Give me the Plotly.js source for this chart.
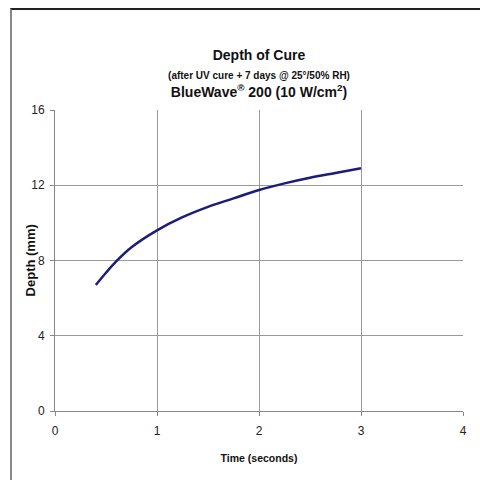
<!DOCTYPE html>
<html>
<head>
<meta charset="utf-8">
<script src="https://cdn.plot.ly/plotly-3.0.1.min.js"></script>
<style>
html,body{margin:0;padding:0;background:#fff;}
#wrap{position:relative;width:480px;height:480px;}
#chart{width:480px;height:480px;}
#frame{position:absolute;left:10px;top:8px;width:470px;height:472px;border-top:2px solid #222;border-left:2px solid #888;pointer-events:none;box-sizing:border-box;}
</style>
</head>
<body>
<div id="wrap">
<div id="chart"></div>
<div id="frame"></div>
</div>
<script>
const timeSeconds = [0.4, 0.5, 0.6, 0.75, 1.0, 1.25, 1.5, 1.75, 2.0, 2.25, 2.5, 2.75, 3.0];
const depthMm     = [6.7, 7.35, 7.95, 8.7, 9.6, 10.3, 10.85, 11.3, 11.75, 12.1, 12.4, 12.65, 12.9];
const xTicks = [0, 1, 2, 3, 4];
const yTicks = [0, 4, 8, 12, 16];

const font = "Liberation Sans, Arial, sans-serif";
const trace = {
  x: timeSeconds, y: depthMm, type: 'scatter', mode: 'lines',
  line: {color: '#1c1c7a', width: 2.5, shape: 'spline', smoothing: 1},
  hoverinfo: 'skip'
};
const layout = {
  width: 480, height: 480,
  margin: {l: 55, r: 17, t: 110, b: 69},
  paper_bgcolor: '#fff', plot_bgcolor: '#fff',
  showlegend: false,
  font: {family: font, color: '#222', size: 12},
  title: {
    text: '<b>Depth of Cure</b><br><b><span style="font-size:10px">(after UV cure + 7 days @ 25°/50% RH)</span></b><br><b>BlueWave<sup>®</sup> 200 (10 W/cm<sup>2</sup>)</b>',
    font: {family: font, size: 14, color: '#111'},
    x: 0.5, xref: 'paper', xanchor: 'center',
    y: 0.874, yref: 'container', yanchor: 'middle'
  },
  xaxis: {
    range: [0, 4], tickvals: xTicks, ticktext: xTicks.map(String),
    showgrid: true, gridcolor: '#999', gridwidth: 1,
    showline: true, linecolor: '#888', linewidth: 1,
    ticks: 'outside', ticklen: 4, tickcolor: '#888',
    ticklabelstandoff: 5,
    zeroline: false, fixedrange: true,
    title: {text: '<b>Time (seconds)</b>', font: {family: font, size: 10.5, color: '#111'}, standoff: 17}
  },
  yaxis: {
    range: [0, 16], tickvals: yTicks, ticktext: yTicks.map(String),
    showgrid: true, gridcolor: '#999', gridwidth: 1,
    showline: true, linecolor: '#888', linewidth: 1,
    ticks: 'outside', ticklen: 4, tickcolor: '#888',
    ticklabelstandoff: 3,
    zeroline: false, fixedrange: true
  },
  annotations: [{
    text: '<b>Depth (mm)</b>', textangle: -90, showarrow: false,
    xref: 'paper', yref: 'paper', x: -0.059, y: 0.5,
    xanchor: 'center', yanchor: 'middle',
    font: {family: font, size: 13, color: '#111'}
  }]
};
Plotly.newPlot('chart', [trace], layout, {displayModeBar: false, staticPlot: true});
</script>
</body>
</html>
